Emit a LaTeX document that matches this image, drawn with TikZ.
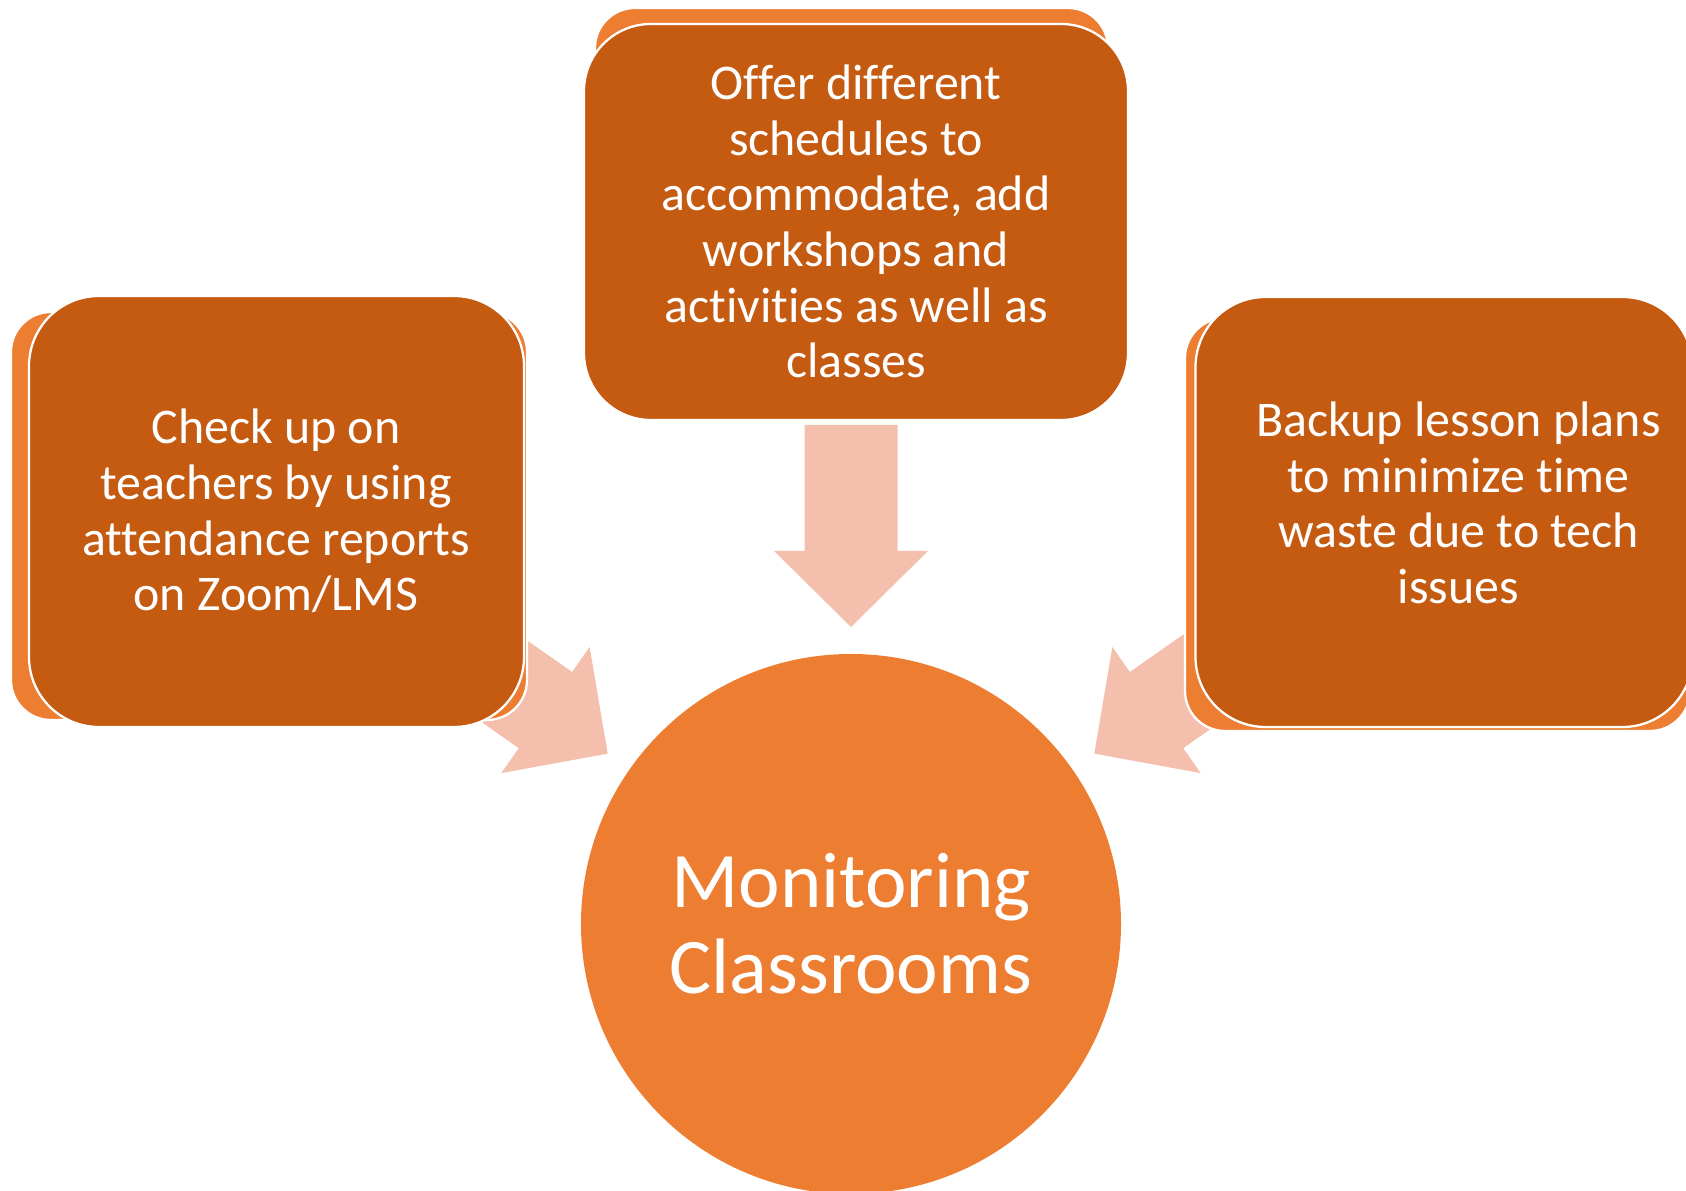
\documentclass[tikz,border=0pt]{standalone}
\usepackage{fontspec}
\setmainfont{Carlito}[Ligatures=NoCommon]
\usepackage{tikz}

\definecolor{rust}{HTML}{C55A11}
\definecolor{tang}{HTML}{ED7D31}
\definecolor{peach}{HTML}{F4BFAD}

\begin{document}
\begin{tikzpicture}[box/.style={rectangle, rounded corners=1.4cm, fill=rust, draw=white, line width=1.3pt},
  back/.style={rectangle, rounded corners=0.8cm, fill=tang, draw=white, line width=1.3pt},
  txt/.style={text=white, align=center, font=\fontsize{28.4}{31.7}\selectfont},
  arr/.style={fill=peach}]
  \useasboundingbox (0,0) rectangle (33.72,23.82);
  \node[circle, fill=tang, minimum size=10.8cm, inner sep=0pt, text=white, align=center,
    font=\fontsize{44.8}{48.8}\selectfont] (c) at (17.02,5.34) {Monitoring\\Classrooms};
  \foreach \a in {90,145,35}
    \fill[arr, shift={(c.center)}, rotate=\a] (5.94,0) -- (7.46,1.54) -- (7.46,0.93) -- (9.98,0.93)
      -- (9.98,-0.93) -- (7.46,-0.93) -- (7.46,-1.54) -- cycle;
  \node[back, minimum width=10.32cm, minimum height=8.16cm] (lb) at (5.38,13.5) {};
  \node[back, minimum width=10.26cm, minimum height=7.66cm] (mb) at (17.03,19.83) {};
  \node[back, minimum width=10.1cm, minimum height=8.26cm] (rb) at (28.75,13.33) {};
  \node[box, minimum width=9.9cm, minimum height=8.62cm] (l) at (5.53,13.59) {};
  \node[box, rounded corners=1.34cm, minimum width=10.88cm, minimum height=7.92cm] (m) at (17.12,19.38) {};
  \node[box, minimum width=9.94cm, minimum height=8.6cm] (r) at (28.88,13.58) {};
  \node[txt] (lt) at (5.52,13.6) {Check up on\\teachers by using\\attendance reports\\on Zoom/LMS};
  \node[txt] (mt) at (17.12,19.39) {Offer different\\schedules to\\accommodate, add\\workshops and\\activities as well as\\classes};
  \node[txt] (rt) at (29.17,13.76) {Backup lesson plans\\to minimize time\\waste due to tech\\issues};
\end{tikzpicture}
\end{document}
